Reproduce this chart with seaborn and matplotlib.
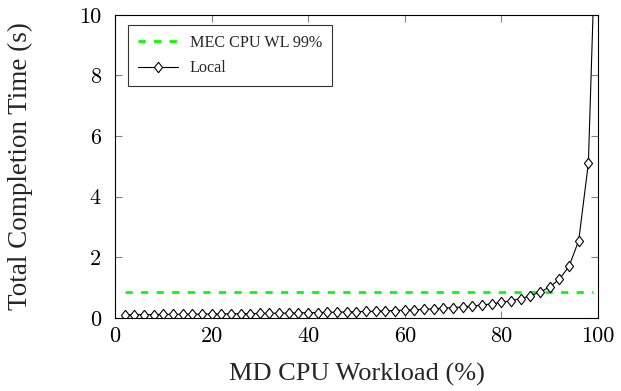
import matplotlib
matplotlib.use("Agg")
import matplotlib.pyplot as plt
import seaborn as sns
import pandas as pd

workload = [2, 4, 6, 8, 10, 12, 14, 16, 18, 20, 22, 24, 26, 28, 30, 32, 34, 36, 38, 40,
            42, 44, 46, 48, 50, 52, 54, 56, 58, 60, 62, 64, 66, 68, 70, 72, 74, 76, 78, 80,
            82, 84, 86, 88, 90, 92, 94, 96, 98, 99]
local_time = [0.104, 0.106, 0.109, 0.111, 0.113, 0.116, 0.119, 0.121, 0.124, 0.128,
              0.131, 0.134, 0.138, 0.142, 0.146, 0.150, 0.155, 0.159, 0.165, 0.170,
              0.176, 0.182, 0.189, 0.196, 0.204, 0.213, 0.222, 0.232, 0.243, 0.255,
              0.268, 0.283, 0.300, 0.319, 0.340, 0.364, 0.392, 0.425, 0.464, 0.510,
              0.567, 0.638, 0.729, 0.850, 1.02, 1.275, 1.70, 2.55, 5.10, 10.2]
mec_x = [2, 99]
mec_y = [0.85, 0.85]
x_ticks = [0, 20, 40, 60, 80, 100]
y_ticks = [0, 2, 4, 6, 8, 10]

sns.set_theme(style="white")
plt.rcParams["font.family"] = ["Liberation Serif", "DejaVu Serif"]

fig = plt.figure(figsize=(6.21, 3.91), dpi=100)
ax = fig.add_axes([0.185, 0.187, 0.778, 0.775])

diamond = [(0, 1), (0.78, 0), (0, -1), (-0.78, 0), (0, 1)]

sns.lineplot(x=mec_x, y=mec_y, ax=ax, color="#00ff00", linewidth=2.0,
             linestyle=(0, (2.6, 3)), label="MEC CPU WL 99%")
df = pd.DataFrame({"x": workload, "y": local_time})
sns.lineplot(data=df, x="x", y="y", ax=ax, color="black", linewidth=0.8,
             marker=diamond, markersize=7.5, markerfacecolor="white",
             markeredgecolor="black", markeredgewidth=0.8, label="Local")

ax.set_xlim(0, 100)
ax.set_ylim(0, 10)
ax.set_xticks(x_ticks)
ax.set_yticks(y_ticks)
for lab in ax.get_xticklabels() + ax.get_yticklabels():
    lab.set_fontfamily("cmr10")
    lab.set_fontsize(16)
ax.tick_params(axis="both", which="both", direction="in", length=5, width=0.8,
               color="#808080", top=True, right=True, bottom=True, left=True,
               labelcolor="black")
ax.tick_params(axis="x", pad=6)
ax.tick_params(axis="y", pad=10)
for s in ax.spines.values():
    s.set_color("black")
    s.set_linewidth(0.8)

ax.set_xlabel("MD CPU Workload (%)", fontsize=19)
ax.set_ylabel("Total Completion Time (s)", fontsize=19.5)
ax.xaxis.set_label_coords(0.5, -0.15)
ax.yaxis.set_label_coords(-0.17, 0.5)

leg = ax.legend(loc="upper left", bbox_to_anchor=(0.027, 0.967), borderaxespad=0,
                fontsize=11.6, frameon=True, fancybox=False, edgecolor="black",
                handlelength=2.5, handletextpad=0.75, borderpad=0.6,
                labelspacing=0.6)
leg.get_frame().set_linewidth(0.8)

fig.savefig("out.png", dpi=100)
